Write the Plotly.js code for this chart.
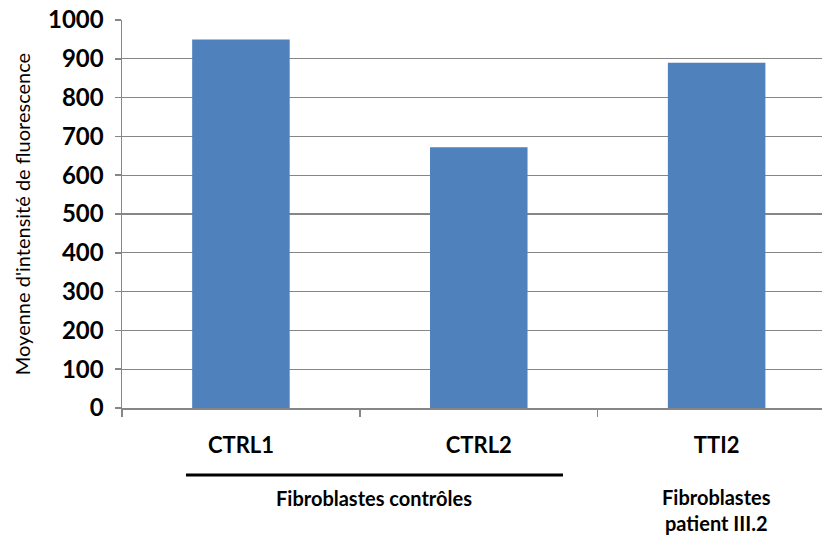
<!DOCTYPE html>
<html><head><meta charset="utf-8">
<script src="https://cdn.plot.ly/plotly-3.0.1.min.js"></script>
<style>body{margin:0;background:#fff}#c{width:822px;height:537px}</style>
</head><body><div id="c"></div>
<script>
const categories = ["CTRL1", "CTRL2", "TTI2"];
const values = [950, 672, 890];
const groupLabels = ["Fibroblastes contrôles", "Fibroblastes<br>patient III.2"];
const yTitle = "Moyenne d'intensité de fluorescence";

const font = "Lato, 'Open Sans', sans-serif";
const trace = {
  type: "bar", x: categories, y: values,
  marker: {color: "#4F81BD"}, width: 0.41, hoverinfo: "x+y"
};
const layout = {
  width: 822, height: 537,
  margin: {l: 122, r: 0, t: 20, b: 129},
  paper_bgcolor: "#fff", plot_bgcolor: "#fff",
  showlegend: false,
  xaxis: {
    type: "category", range: [-0.5, 2.443],
    showline: true, linecolor: "#868686", linewidth: 1.5,
    ticks: "outside", tickson: "boundaries", ticklen: 7, tickcolor: "#868686", tickwidth: 1.5,
    tickfont: {family: font, size: 22, color: "#000", weight: "bold"},
    ticklabelstandoff: 17, showgrid: false, zeroline: false
  },
  yaxis: {
    range: [0, 1000], dtick: 100,
    showline: true, linecolor: "#868686", linewidth: 1.5,
    ticks: "outside", ticklen: 6, tickcolor: "#868686", tickwidth: 1.5,
    showgrid: true, gridcolor: "#868686", gridwidth: 1.2, zeroline: false,
    tickfont: {family: font, size: 24, color: "#000", weight: "bold"},
    ticklabelstandoff: 6,
    title: {text: yTitle, font: {family: font, size: 20, color: "#000"}, standoff: 12}
  },
  shapes: [{
    type: "line", xref: "x", yref: "paper",
    x0: -0.231, x1: 1.354, y0: -0.173, y1: -0.173,
    line: {color: "#000", width: 3}
  }],
  annotations: [
    {xref: "x", yref: "paper", x: 0.56, y: -0.232, yanchor: "middle", text: groupLabels[0], showarrow: false,
     font: {family: font, size: 20, color: "#000", weight: "bold"}},
    {xref: "x", yref: "paper", x: 2, y: -0.263, yanchor: "middle", text: groupLabels[1], showarrow: false,
     font: {family: font, size: 20, color: "#000", weight: "bold"}}
  ]
};
Plotly.newPlot("c", [trace], layout, {displayModeBar: false, staticPlot: true});
</script></body></html>
